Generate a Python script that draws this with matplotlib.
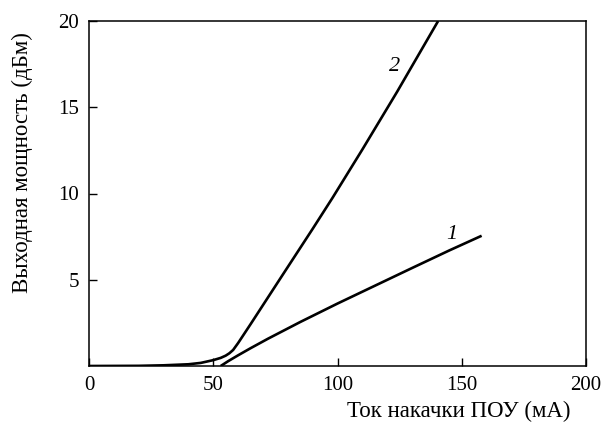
import matplotlib
matplotlib.use("Agg")
import matplotlib.pyplot as plt

plt.rcParams['font.family'] = ['Liberation Serif', 'DejaVu Serif']

# Curve 1
curve1_x = [53, 56, 60, 65, 72, 85, 100, 115, 130, 145, 158]
curve1_y = [0, 0.28, 0.62, 1.03, 1.58, 2.55, 3.62, 4.65, 5.68, 6.7, 7.55]
# Curve 2
curve2_x = [0, 20, 30, 40, 45, 50, 53, 55, 56.5, 58, 60, 65, 78, 90, 98, 110, 124, 140.5]
curve2_y = [0, 0.01, 0.04, 0.1, 0.18, 0.34, 0.47, 0.6, 0.74, 0.93, 1.33, 2.42, 5.3, 7.95, 9.75, 12.55, 15.9, 20]

x_ticks = [0, 50, 100, 150, 200]
y_ticks = [5, 10, 15, 20]
curve_labels = ["1", "2"]
label_pos_x = [146, 123]
label_pos_y = [7.6, 17.35]

fig = plt.figure(figsize=(6.01, 4.29), dpi=100)
ax = fig.add_axes([89/601, 1-366/429, (586-89)/601, (366-21)/429])

ax.plot(curve1_x, curve1_y, color='black', lw=1.9, solid_capstyle='butt', solid_joinstyle='round')
ax.plot(curve2_x, curve2_y, color='black', lw=1.9, solid_capstyle='butt', solid_joinstyle='round')

for t, xx, yy in zip(curve_labels, label_pos_x, label_pos_y):
    ax.text(xx, yy, t, fontsize=16, style='italic', ha='center', va='center')

ax.set_xlim(0, 200)
ax.set_ylim(0, 20)
ax.set_xticks(x_ticks)
ax.set_yticks(y_ticks)
ax.tick_params(direction='in', length=6, width=1, labelsize=15, pad=7,
               top=False, right=False)
for s in ax.spines.values():
    s.set_linewidth(1.1)

fig.text(459/601, 1-411/429, "Ток накачки ПОУ (мА)", fontsize=16.5,
         ha='center', va='center')
fig.text(22/601, 1-163/429, "Выходная мощность (дБм)", fontsize=16.5,
         ha='center', va='center', rotation=90)

fig.savefig("out.png", dpi=100)
